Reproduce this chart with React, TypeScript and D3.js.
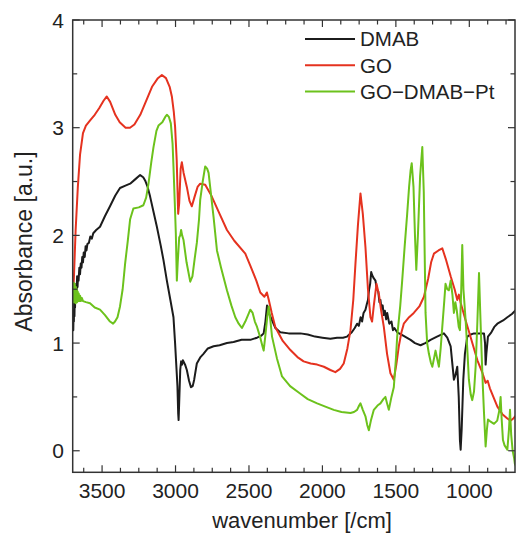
import React from "react";
import * as d3 from "d3";

// ---- data ----
const seriesNames = ["DMAB", "GO", "GO\u2212DMAB\u2212Pt"];
const seriesColors = ["#1c1c1c", "#e5321f", "#6cc21c"];

const xTickLabels = [3500, 3000, 2500, 2000, 1500, 1000];
const yTickLabels = [0, 1, 2, 3, 4];

const dmab: [number, number][] = [
  [3700, 1.15], [3698, 1.3], [3696, 1.12], [3694, 1.28], [3692, 1.2], [3690, 1.4], [3688, 1.25],
  [3686, 1.42], [3684, 1.33], [3682, 1.5], [3679, 1.42], [3676, 1.55], [3673, 1.48], [3670, 1.62],
  [3667, 1.52], [3664, 1.62], [3660, 1.58], [3655, 1.7], [3650, 1.64], [3645, 1.74], [3640, 1.7],
  [3635, 1.8], [3630, 1.75], [3625, 1.84], [3618, 1.8], [3612, 1.9], [3606, 1.86], [3600, 1.92],
  [3590, 1.93], [3580, 1.99], [3570, 1.97], [3560, 2.02], [3540, 2.05], [3514, 2.08], [3480, 2.18],
  [3446, 2.27], [3410, 2.37], [3378, 2.44], [3345, 2.46], [3309, 2.48], [3275, 2.52], [3241, 2.56],
  [3220, 2.54], [3207, 2.51], [3190, 2.45], [3173, 2.36], [3150, 2.22], [3127, 2.08], [3100, 1.9],
  [3082, 1.77], [3059, 1.58], [3035, 1.4], [3014, 1.24], [3003, 1.0], [2993, 0.75], [2987, 0.6],
  [2982, 0.35], [2979, 0.285], [2975, 0.45], [2968, 0.75], [2962, 0.83], [2955, 0.8], [2950, 0.84],
  [2935, 0.8], [2923, 0.75], [2908, 0.65], [2895, 0.59], [2883, 0.6], [2873, 0.66], [2855, 0.81],
  [2830, 0.87], [2810, 0.9], [2780, 0.95], [2741, 0.97], [2700, 0.98], [2650, 1.0], [2605, 1.01],
  [2550, 1.03], [2491, 1.03], [2445, 1.05], [2415, 1.07], [2400, 1.09], [2388, 1.2], [2377, 1.35],
  [2365, 1.28], [2343, 1.21], [2320, 1.14], [2287, 1.1], [2230, 1.09], [2150, 1.09], [2100, 1.08],
  [2050, 1.06], [2000, 1.05], [1946, 1.04], [1900, 1.05], [1860, 1.05], [1832, 1.06], [1800, 1.1],
  [1780, 1.14], [1764, 1.18], [1752, 1.16], [1740, 1.24], [1730, 1.2], [1720, 1.28], [1707, 1.31],
  [1698, 1.36], [1690, 1.4], [1682, 1.5], [1675, 1.55], [1668, 1.66], [1661, 1.63], [1650, 1.6],
  [1639, 1.58], [1630, 1.5], [1620, 1.48], [1612, 1.38], [1605, 1.4], [1598, 1.32], [1590, 1.35],
  [1582, 1.26], [1575, 1.3], [1566, 1.22], [1559, 1.28], [1545, 1.18], [1530, 1.2], [1520, 1.12],
  [1510, 1.14], [1491, 1.1], [1450, 1.07], [1400, 1.03], [1370, 1.0], [1332, 0.98], [1300, 1.0],
  [1264, 1.03], [1220, 1.06], [1173, 1.09], [1150, 1.05], [1127, 0.97], [1115, 0.8], [1105, 0.66],
  [1095, 0.7], [1082, 0.78], [1072, 0.5], [1064, 0.1], [1059, 0.01], [1052, 0.2], [1041, 0.66],
  [1030, 0.9], [1014, 1.06], [990, 1.08], [968, 1.09], [930, 1.09], [900, 1.09], [893, 1.0],
  [889, 0.8], [884, 0.9], [873, 1.06], [850, 1.1], [830, 1.15], [809, 1.18], [770, 1.21],
  [741, 1.24], [710, 1.27], [681, 1.31],
];

const go: [number, number][] = [
  [3700, 1.4], [3692, 1.6], [3680, 2.05], [3665, 2.45], [3650, 2.75], [3630, 2.95], [3610, 3.02],
  [3580, 3.07], [3550, 3.12], [3520, 3.18], [3490, 3.25], [3468, 3.29], [3445, 3.24], [3410, 3.12],
  [3380, 3.05], [3340, 3.0], [3310, 3.0], [3280, 3.03], [3240, 3.12], [3200, 3.25], [3160, 3.38],
  [3120, 3.46], [3093, 3.49], [3065, 3.46], [3040, 3.38], [3025, 3.29], [3012, 3.15], [3003, 3.01],
  [2992, 2.7], [2982, 2.2], [2975, 2.3], [2965, 2.62], [2957, 2.68], [2945, 2.58], [2923, 2.45],
  [2905, 2.32], [2889, 2.27], [2870, 2.36], [2850, 2.45], [2832, 2.48], [2798, 2.47], [2760, 2.38],
  [2700, 2.2], [2650, 2.05], [2600, 1.95], [2525, 1.83], [2491, 1.72], [2450, 1.58], [2423, 1.47],
  [2395, 1.43], [2378, 1.47], [2365, 1.4], [2345, 1.28], [2321, 1.15], [2270, 1.02], [2218, 0.935],
  [2170, 0.87], [2128, 0.83], [2080, 0.81], [2036, 0.8], [1990, 0.78], [1946, 0.75], [1912, 0.73],
  [1880, 0.76], [1855, 0.81], [1830, 0.95], [1809, 1.12], [1790, 1.4], [1775, 1.74], [1758, 2.1],
  [1741, 2.39], [1725, 2.2], [1707, 1.89], [1690, 1.5], [1673, 1.24], [1662, 1.2], [1650, 1.35],
  [1632, 1.55], [1615, 1.45], [1600, 1.3], [1582, 1.15], [1560, 0.9], [1537, 0.72], [1514, 0.66],
  [1497, 0.8], [1480, 0.97], [1462, 1.1], [1446, 1.18], [1410, 1.24], [1378, 1.28], [1340, 1.34],
  [1309, 1.43], [1280, 1.6], [1260, 1.75], [1241, 1.83], [1210, 1.86], [1184, 1.88], [1160, 1.78],
  [1127, 1.62], [1100, 1.5], [1082, 1.4], [1071, 1.45], [1060, 1.38], [1025, 1.21], [990, 1.05],
  [945, 0.84], [910, 0.72], [889, 0.63], [875, 0.65], [860, 0.58], [830, 0.48], [809, 0.41],
  [775, 0.34], [741, 0.3], [720, 0.28], [700, 0.3], [681, 0.33],
];

const goDmabPt: [number, number][] = [
  [3700, 1.44], [3698, 1.52], [3696, 1.38], [3694, 1.56], [3692, 1.4], [3690, 1.54], [3688, 1.38],
  [3686, 1.55], [3684, 1.4], [3682, 1.52], [3680, 1.37], [3678, 1.52], [3675, 1.4], [3672, 1.5],
  [3669, 1.38], [3666, 1.48], [3663, 1.39], [3659, 1.46], [3655, 1.39], [3650, 1.44], [3645, 1.39],
  [3638, 1.42], [3630, 1.39], [3610, 1.38], [3582, 1.37], [3550, 1.33], [3514, 1.31], [3480, 1.26],
  [3446, 1.2], [3425, 1.18], [3412, 1.2], [3395, 1.24], [3378, 1.34], [3360, 1.5], [3343, 1.74],
  [3325, 1.95], [3309, 2.15], [3287, 2.25], [3250, 2.26], [3219, 2.28], [3200, 2.35], [3184, 2.48],
  [3165, 2.68], [3150, 2.82], [3130, 2.97], [3116, 3.02], [3090, 3.05], [3070, 3.1], [3059, 3.12],
  [3045, 3.1], [3032, 3.04], [3020, 2.85], [3014, 2.64], [3005, 2.3], [2998, 2.02], [2993, 1.7],
  [2991, 1.58], [2985, 1.75], [2975, 1.98], [2968, 2.0], [2962, 2.05], [2955, 2.0], [2946, 1.96],
  [2925, 1.75], [2900, 1.57], [2885, 1.62], [2870, 1.78], [2855, 1.93], [2840, 2.15], [2832, 2.33],
  [2815, 2.5], [2798, 2.64], [2785, 2.62], [2775, 2.58], [2760, 2.4], [2741, 2.17], [2718, 1.86],
  [2690, 1.7], [2650, 1.49], [2620, 1.35], [2593, 1.24], [2570, 1.18], [2548, 1.14], [2525, 1.2],
  [2500, 1.28], [2491, 1.31], [2475, 1.28], [2460, 1.2], [2445, 1.15], [2425, 1.06], [2410, 0.98],
  [2400, 0.93], [2390, 1.05], [2375, 1.25], [2366, 1.34], [2355, 1.22], [2343, 1.06], [2310, 0.86],
  [2275, 0.69], [2220, 0.6], [2150, 0.53], [2100, 0.48], [2036, 0.44], [1980, 0.41], [1923, 0.38],
  [1870, 0.36], [1809, 0.35], [1785, 0.36], [1764, 0.38], [1750, 0.42], [1741, 0.44], [1725, 0.38],
  [1707, 0.32], [1695, 0.24], [1684, 0.19], [1670, 0.28], [1650, 0.38], [1625, 0.42], [1605, 0.44],
  [1585, 0.48], [1571, 0.5], [1560, 0.44], [1548, 0.38], [1530, 0.5], [1514, 0.59], [1500, 0.85],
  [1491, 1.06], [1470, 1.35], [1457, 1.58], [1440, 1.9], [1423, 2.2], [1410, 2.45], [1400, 2.6],
  [1392, 2.67], [1380, 2.45], [1370, 2.0], [1361, 1.68], [1350, 2.0], [1335, 2.55], [1320, 2.82],
  [1310, 2.4], [1298, 1.28], [1287, 1.0], [1275, 0.9], [1262, 0.82], [1252, 0.78], [1240, 0.86],
  [1230, 0.93], [1218, 0.85], [1207, 0.78], [1195, 0.95], [1184, 1.15], [1170, 1.4], [1162, 1.55],
  [1150, 1.5], [1139, 1.49], [1127, 1.58], [1115, 1.45], [1105, 1.28], [1095, 1.38], [1085, 1.3],
  [1072, 1.15], [1064, 1.12], [1055, 1.5], [1048, 1.91], [1040, 1.5], [1025, 1.21], [1012, 0.9],
  [1003, 0.66], [990, 0.52], [980, 0.47], [968, 0.55], [957, 0.78], [945, 1.2], [934, 1.65],
  [926, 1.3], [918, 0.97], [908, 0.6], [900, 0.35], [889, 0.04], [880, 0.2], [873, 0.29],
  [855, 0.27], [832, 0.25], [810, 0.28], [795, 0.38], [787, 0.5], [780, 0.3], [771, 0.1],
  [760, 0.05], [741, 0.01], [730, 0.2], [723, 0.38], [715, 0.15], [705, 0.0], [696, -0.06],
  [690, -0.12], [681, -0.15],
];

const allSeries = [dmab, go, goDmabPt];

// ---- layout ----
const W = 516;
const H = 535;
const left = 72.7;
const right = 515;
const top = 20;
const bottom = 472.3;

export default function App() {
  const x = d3.scaleLinear().domain([3700, 689]).range([left, right]);
  const y = d3.scaleLinear().domain([-0.2, 4]).range([bottom, top]);
  const line = d3
    .line<[number, number]>()
    .x((d) => x(d[0]))
    .y((d) => y(d[1]));

  const xMinor = d3.range(3625, 689, -125);
  const yMinor = d3.range(0, 4.01, 0.5).filter((v) => Math.abs(v - Math.round(v)) > 0.1);
  const font = "'Liberation Sans', Arial, Helvetica, sans-serif";
  const axisColor = "#333";

  return (
    <svg
      width={W}
      height={H}
      style={{ position: "absolute", left: 0, top: 0, background: "#fff" }}
      fontFamily={font}
    >
      <defs>
        <clipPath id="plotclip">
          <rect x={left} y={top} width={right - left} height={bottom - top} />
        </clipPath>
      </defs>
      <rect x={0} y={0} width={W} height={H} fill="#fff" />

      {/* curves */}
      <g clipPath="url(#plotclip)" fill="none" strokeLinejoin="round">
        {allSeries.map((s, i) => (
          <path key={i} d={line(s) || ""} stroke={seriesColors[i]} strokeWidth={2} />
        ))}
      </g>

      {/* frame */}
      <rect
        x={left}
        y={top}
        width={right - left}
        height={bottom - top}
        fill="none"
        stroke={axisColor}
        strokeWidth={1.5}
      />

      {/* ticks */}
      <g stroke={axisColor} strokeWidth={1.2}>
        {xMinor.map((v) => {
          const major = v % 500 === 0;
          const len = major ? 7 : 4.5;
          return (
            <g key={v}>
              <line x1={x(v)} x2={x(v)} y1={bottom} y2={bottom - len} />
              <line x1={x(v)} x2={x(v)} y1={top} y2={top + len} />
            </g>
          );
        })}
        {yTickLabels.map((v) => (
          <g key={v}>
            <line x1={left} x2={left + 7} y1={y(v)} y2={y(v)} />
            <line x1={right} x2={right - 7} y1={y(v)} y2={y(v)} />
          </g>
        ))}
        {yMinor.map((v) => (
          <g key={v}>
            <line x1={left} x2={left + 4.5} y1={y(v)} y2={y(v)} />
            <line x1={right} x2={right - 4.5} y1={y(v)} y2={y(v)} />
          </g>
        ))}
      </g>

      {/* tick labels */}
      <g fontSize={21} fill="#222">
        {xTickLabels.map((v) => (
          <text key={v} x={x(v)} y={498} textAnchor="middle">
            {v}
          </text>
        ))}
        {yTickLabels.map((v) => (
          <text key={v} x={64} y={y(v)} dy="0.36em" textAnchor="end">
            {v}
          </text>
        ))}
      </g>

      {/* axis titles */}
      <text x={302} y={528} textAnchor="middle" fontSize={22} fill="#222">
        wavenumber [/cm]
      </text>
      <text
        transform={`translate(32,241.5) rotate(-90)`}
        textAnchor="middle"
        fontSize={23}
        fill="#222"
      >
        Absorbance [a.u.]
      </text>

      {/* legend */}
      <g>
        {seriesNames.map((n, i) => {
          const ly = 39 + i * 26.3;
          return (
            <g key={n}>
              <line x1={305} x2={355} y1={ly} y2={ly} stroke={seriesColors[i]} strokeWidth={2} />
              <text x={360} y={ly} dy="0.36em" fontSize={20.5} fill="#222">
                {n}
              </text>
            </g>
          );
        })}
      </g>
    </svg>
  );
}
